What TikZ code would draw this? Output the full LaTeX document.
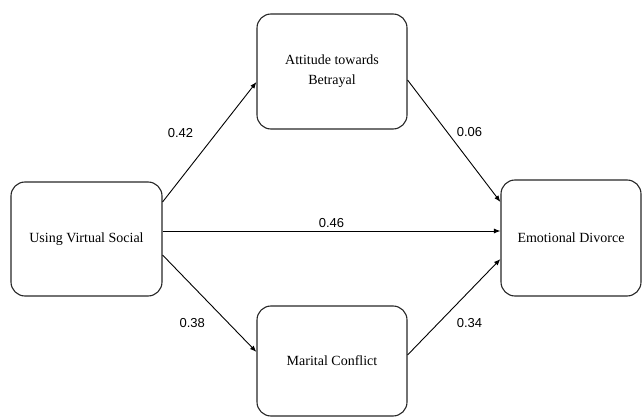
\documentclass[tikz,border=0pt]{standalone}
\usepackage{fontspec}
\setmainfont{Liberation Serif}
\newfontfamily\coeffont{Liberation Sans}
\usetikzlibrary{arrows.meta}

\begin{document}
\begin{tikzpicture}[x=1pt,y=1pt,>={Latex[length=6.5pt,width=5pt]},
    box/.style={draw=black!85,line width=1.1pt,rounded corners=14pt,align=center,
      inner sep=0pt,font=\fontsize{14}{20}\selectfont},
    coef/.style={font=\coeffont\fontsize{13}{15}\selectfont},
    every path/.append style={line width=0.9pt}]
    \useasboundingbox (0,0) rectangle (642,418);
    \node[box,minimum width=151pt,minimum height=114pt] (1) at (86.5,179) {Using Virtual Social};
    \node[box,minimum width=150pt,minimum height=115pt] (2) at (332,346.5) {Attitude towards\\Betrayal};
    \node[box,minimum width=150pt,minimum height=110pt] (3) at (332,57) {Marital Conflict};
    \node[box,minimum width=140pt,minimum height=116pt] (4) at (571,180) {Emotional Divorce};
    %% Upper path
    \draw[->] ([yshift=37pt]1.east) -- node[coef,pos=0.575,xshift=-36pt]{0.42} ([yshift=-10.5pt]2.west);
    \draw[->] ([yshift=-8.5pt]2.east) -- node[coef,pos=0.43,xshift=22pt]{0.06} ([yshift=36pt]4.west);
    %% Direct path
    \draw[->] ([yshift=8pt]1.east) -- node[coef,above]{0.46} ([yshift=7pt]4.west);
    %% Lower path
    \draw[->] ([yshift=-16pt]1.east) -- node[coef,pos=0.70,xshift=-36pt]{0.38} ([yshift=9pt]3.west);
    \draw[->] ([yshift=6pt]3.east) -- node[coef,pos=0.333,xshift=31pt]{0.34} ([yshift=-21pt]4.west);
\end{tikzpicture}
\end{document}
